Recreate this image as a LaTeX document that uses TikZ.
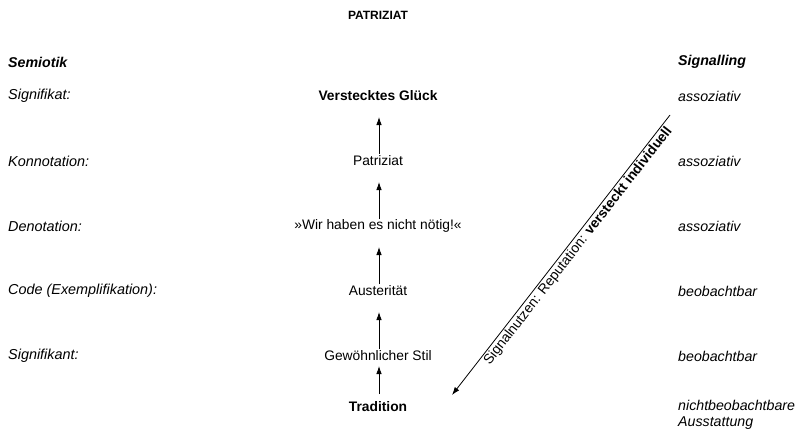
\documentclass[tikz,border=0pt]{standalone}
\usepackage{fontspec}
\setmainfont{Liberation Sans}
\usetikzlibrary{arrows.meta,calc}
\begin{document}
\begin{tikzpicture}[x=1pt,y=-1pt,
  every node/.style={inner sep=0pt,font=\fontsize{13.8}{16}\selectfont},
  lefttxt/.style={anchor=west,font=\fontsize{14.4}{16.5}\selectfont\itshape},
  righttxt/.style={anchor=west,font=\fontsize{14.2}{16.5}\selectfont\itshape},
  headtxt/.style={anchor=west,font=\fontsize{14.2}{16.5}\selectfont\bfseries\itshape},
  midtxt/.style={anchor=center},
  upar/.style={draw,line width=0.8pt,-{Latex[length=8pt,width=5.5pt]}}
]
\useasboundingbox (0,0) rectangle (797,432);
% title
\node[font=\fontsize{12}{13}\selectfont\bfseries] (title) at (378,15) {PATRIZIAT};
% headers
\node[headtxt] (sem) at (8,62) {Semiotik};
\node[headtxt] (sig) at (678,62) {Signalling};
% left column
\node[lefttxt] (l1) at (8,96) {Signifikat:};
\node[lefttxt] (l2) at (8,161) {Konnotation:};
\node[lefttxt] (l3) at (8,226) {Denotation:};
\node[lefttxt] (l4) at (8,291) {Code (Exemplifikation):};
\node[lefttxt] (l5) at (8,356) {Signifikant:};
% middle column
\node[midtxt,font=\fontsize{13.8}{16}\selectfont\bfseries] (m1) at (378,96) {Verstecktes Glück};
\node[midtxt] (m2) at (378,161) {Patriziat};
\node[midtxt] (m3) at (378,226) {»Wir haben es nicht nötig!«};
\node[midtxt] (m4) at (378,291) {Austerität};
\node[midtxt] (m5) at (378,356) {Gewöhnlicher Stil};
\node[midtxt,font=\fontsize{13.8}{16}\selectfont\bfseries] (m6) at (378,407) {Tradition};
% right column
\node[righttxt] (r1) at (678,96) {assoziativ};
\node[righttxt] (r2) at (678,161) {assoziativ};
\node[righttxt] (r3) at (678,226) {assoziativ};
\node[righttxt] (r4) at (678,291) {beobachtbar};
\node[righttxt] (r5) at (678,356) {beobachtbar};
\node[righttxt,align=left] (r6) at (678,415) {nichtbeobachtbare\\Ausstattung};
% vertical arrows
\draw[upar] ($(m2.center)+(1,-7)$) -- ($(m1.center)+(1,21)$);
\draw[upar] ($(m3.center)+(1,-7)$) -- ($(m2.center)+(1,21)$);
\draw[upar] ($(m4.center)+(1,-7)$) -- ($(m3.center)+(1,21)$);
\draw[upar] ($(m5.center)+(1,-7)$) -- ($(m4.center)+(1,21)$);
\draw[upar] ($(m6.center)+(1,-13)$) -- ($(m5.center)+(1,10)$);
% diagonal arrow
\coordinate (ds) at (670,115);
\coordinate (de) at (452,395);
\draw[upar] (ds) -- (de);
\path (ds) -- (de) coordinate[pos=0.45] (dm);
\node[rotate=52.1,anchor=north,inner sep=1.5pt] (dl) at (dm) {Signalnutzen: Reputation: \textbf{versteckt individuell}};
\end{tikzpicture}
\end{document}
